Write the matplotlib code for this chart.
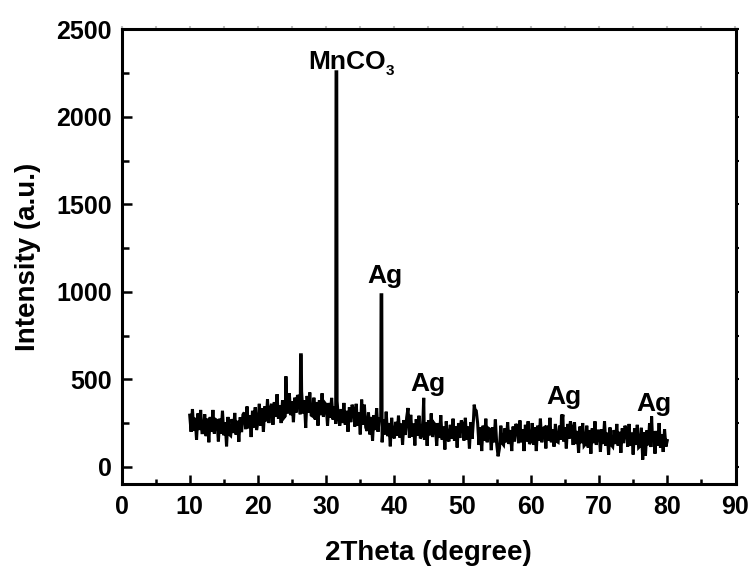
import numpy as np
import matplotlib
matplotlib.use("Agg")
import matplotlib.pyplot as plt
from matplotlib.ticker import MultipleLocator

plt.rcParams['font.family'] = ['Liberation Sans', 'DejaVu Sans']
plt.rcParams['font.weight'] = 'bold'

# background pattern, 2theta = 10.0 ... 80.0 in 0.2 degree steps
start_2theta = 10.0
step_2theta = 0.2
background = [
    295, 200, 330, 205, 280, 155, 305, 210, 325, 195,   # 10
    195, 300, 175, 275, 140, 285, 200, 325, 190, 270,   # 12
    265, 145, 275, 190, 320, 180, 255, 117, 285, 185,   # 14
    178, 273, 193, 308, 183, 263, 143, 283, 198, 298,   # 16
    310, 215, 345, 220, 295, 170, 320, 225, 340, 210,   # 18
    255, 360, 235, 335, 200, 345, 260, 385, 250, 330,   # 20
    360, 240, 370, 285, 415, 275, 350, 250, 380, 280,   # 22
    290, 385, 305, 420, 295, 375, 255, 395, 310, 410,   # 24
    395, 300, 430, 305, 380, 222, 405, 310, 425, 295,   # 26
    290, 395, 270, 370, 235, 380, 295, 420, 285, 365,   # 28
    355, 235, 365, 280, 394, 270, 345, 245, 375, 275,   # 30
    235, 330, 250, 365, 240, 320, 200, 340, 255, 355,   # 32
    325, 230, 360, 235, 310, 185, 384, 240, 355, 225,   # 34
    205, 310, 185, 285, 150, 295, 210, 335, 200, 280,   # 36
    260, 140, 270, 185, 315, 175, 250, 117, 280, 180,   # 38
    162, 257, 177, 292, 167, 247, 127, 267, 182, 282,   # 40
    336, 167, 297, 172, 247, 122, 272, 177, 292, 162,   # 42
    175, 280, 155, 255, 120, 265, 180, 305, 170, 250,   # 44
    240, 120, 250, 165, 295, 155, 230, 99, 260, 160,    # 46
    145, 240, 160, 275, 150, 230, 110, 250, 165, 265,   # 48
    245, 150, 280, 155, 230, 105, 255, 160, 275, 330,   # 50
    320, 250, 125, 225, 90, 235, 150, 275, 140, 220,    # 52
    215, 95, 225, 140, 270, 130, 60, 105, 235, 135,     # 54
    125, 220, 140, 255, 130, 210, 90, 230, 145, 245,    # 56
    230, 135, 265, 140, 215, 90, 240, 145, 260, 130,    # 58
    145, 250, 125, 225, 90, 235, 150, 275, 140, 220,    # 60
    225, 105, 235, 150, 280, 140, 215, 115, 245, 145,   # 62
    140, 235, 155, 270, 145, 225, 105, 245, 160, 260,   # 64
    220, 125, 255, 130, 205, 80, 230, 135, 250, 120,    # 66
    130, 235, 110, 210, 75, 220, 135, 260, 125, 205,    # 68
    205, 85, 215, 130, 260, 120, 195, 70, 225, 125,     # 70
    115, 210, 130, 245, 120, 200, 80, 220, 135, 235,    # 72
    210, 115, 245, 120, 195, 70, 220, 125, 240, 110,    # 74
    118, 223, 41, 198, 63, 208, 123, 248, 113, 193,     # 76
    195, 75, 205, 120, 250, 110, 185, 85, 215, 115,     # 78
    150,                                                # 80
]

# diffraction peaks
peak_2theta = [24.1, 26.25, 26.35, 31.45, 31.55, 38.05, 38.15, 44.3, 51.7, 64.5, 64.7, 77.7]
peak_intensity = [517, 640, 640, 2257, 2257, 983, 983, 394, 355, 298, 298, 288]

# phase labels
label_texts = ['Ag', 'Ag', 'Ag', 'Ag']
label_2theta = [36.1, 42.3, 62.3, 75.5]
label_intensity = [1053, 431, 357, 318]
mnco3_2theta = 27.4
mnco3_intensity = 2273

x_ticks = [0, 10, 20, 30, 40, 50, 60, 70, 80, 90]
y_ticks = [0, 500, 1000, 1500, 2000, 2500]

grid = start_2theta + step_2theta * np.arange(len(background))
x = np.concatenate([grid, peak_2theta])
y = np.concatenate([background, peak_intensity])
order = np.argsort(x, kind='stable')
x, y = x[order], y[order]

fig = plt.figure(figsize=(7.56, 5.71), dpi=100)
ax = fig.add_axes([121.5 / 756, 1 - 484.3 / 571, 614 / 756, (484.3 - 29.3) / 571])

ax.plot(x, y, color='black', lw=2.2, solid_joinstyle='miter')

ax.set_xlim(0, 90)
ax.set_ylim(-100, 2500)
ax.set_xticks(x_ticks)
ax.set_yticks(y_ticks)
ax.xaxis.set_minor_locator(MultipleLocator(5))
ax.yaxis.set_minor_locator(MultipleLocator(250))

for s in ax.spines.values():
    s.set_linewidth(2.2)

ax.tick_params(axis='both', which='both', direction='in', width=1.8, labelsize=18)
ax.tick_params(axis='x', which='major', length=6.5, pad=8)
ax.tick_params(axis='x', which='minor', length=3.5)
ax.tick_params(axis='y', which='major', length=7, pad=7)
ax.tick_params(axis='y', which='minor', length=5)
for lab in ax.get_xticklabels() + ax.get_yticklabels():
    lab.set_fontweight('bold')

# faint outer ticks on top and right
sx = ax.secondary_xaxis('top')
sx.xaxis.set_major_locator(MultipleLocator(5))
sx.tick_params(direction='out', length=2, width=1.5, color='#c0c0c0', labeltop=False)
sy = ax.secondary_yaxis('right')
sy.yaxis.set_major_locator(MultipleLocator(250))
sy.tick_params(direction='out', length=2, width=1.5, color='black', labelright=False)
for s in list(sx.spines.values()) + list(sy.spines.values()):
    s.set_linewidth(0)

ax.set_xlabel('2Theta (degree)', fontsize=20, fontweight='bold', labelpad=15)
ax.set_ylabel('Intensity (a.u.)', fontsize=20, fontweight='bold', labelpad=11)

t = ax.text(mnco3_2theta, mnco3_intensity, 'MnCO', fontsize=19, fontweight='bold',
            ha='left', va='baseline')
ax.annotate('3', xy=(1, 0), xycoords=t, xytext=(0, -3), textcoords='offset points',
            fontsize=11, fontweight='bold', ha='left', va='bottom')
for txt, lx, ly in zip(label_texts, label_2theta, label_intensity):
    ax.text(lx, ly, txt, fontsize=19, fontweight='bold', ha='left', va='baseline')

fig.savefig('out.png', dpi=100)
